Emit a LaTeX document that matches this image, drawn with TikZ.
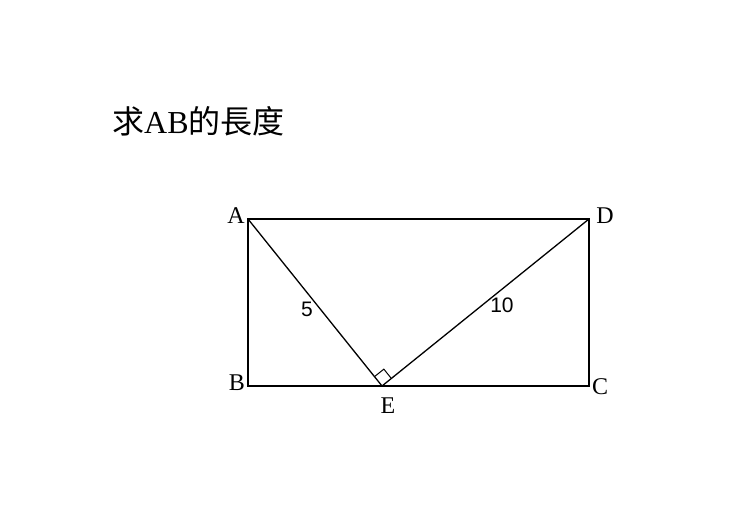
\documentclass[tikz,border=0pt]{standalone}
\usepackage{fontspec}
\setmainfont{Liberation Serif}
\newfontfamily\cjkfont{Noto Sans CJK TC}
\newfontfamily\numfont{Liberation Sans}
\usetikzlibrary{calc}

\begin{document}
\begin{tikzpicture}[x=1pt, y=-1pt, every node/.style={font=\fontsize{24}{28}\selectfont, inner sep=0pt}, side/.style={line width=1.3pt}, len/.style={font=\numfont\fontsize{21}{25}\selectfont}]
\useasboundingbox (0,0) rectangle (740,524);
%Title
\node[anchor=base west, font=\fontsize{32}{38}\selectfont] (title) at (112,134) {{\cjkfont 求}AB{\cjkfont 的長度}};
%Corners
\coordinate (A) at (248,219);
\coordinate (B) at (248,386);
\coordinate (C) at (589,386);
\coordinate (D) at (589,219);
\coordinate (E) at (382,386);
%Rectangle and triangle
\draw[side] (A) -- (B) -- (C) -- (D) -- cycle;
\draw[side] (A) -- (E) -- (D);
%Right angle
\draw[line width=1pt] ($(E)!12pt!(A)$) -- ($($(E)!12pt!(A)$)!12pt!90:(E)$) -- ($(E)!12pt!(D)$);
%Labels
\node (lA) at (236,216) {A};
\node (lB) at (237,383) {B};
\node (lC) at (600,387) {C};
\node (lD) at (605,216) {D};
\node (lE) at (388,406) {E};
\node[len] (l5) at (307,309) {5};
\node[len] (l10) at (502,305) {10};
\end{tikzpicture}
\end{document}
